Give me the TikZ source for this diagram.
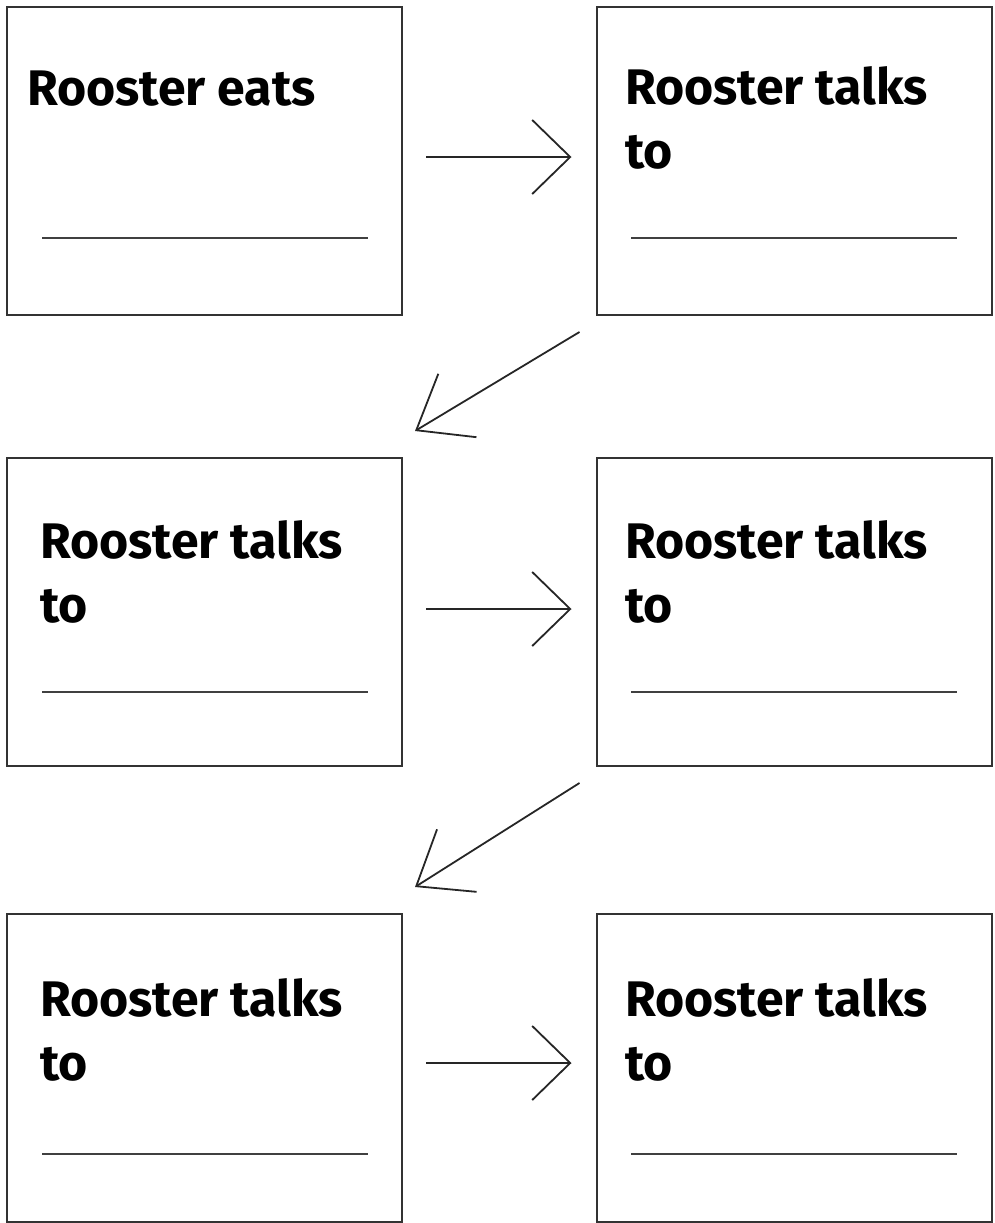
\documentclass[tikz,border=0pt]{standalone}
\usepackage{fontspec}
\setmainfont{Fira Sans}
\usetikzlibrary{arrows.meta}

\begin{document}
\begin{tikzpicture}[x=1pt, y=-1pt,
  card/.style={draw=black!80, line width=2pt, minimum width=395pt, minimum height=308pt, inner sep=0pt},
  words/.style={anchor=base west, align=left, inner sep=0pt, font=\bfseries\fontsize{50}{64}\selectfont},
  blank/.style={draw=black!75, line width=2pt},
  goes/.style={draw=black!85, line width=1.8pt, -{Straight Barb[length=38pt, width=74pt]}},
  goesback/.style={draw=black!85, line width=1.8pt, -{Straight Barb[length=48pt, width=74pt]}}]
\useasboundingbox (0,0) rectangle (995,1223);

%boxes
  \node[card] (A) at (204.5,161) {};
  \node[card] (B) at (794,161) {};
  \node[card] (C) at (204.5,612) {};
  \node[card] (D) at (794,612) {};
  \node[card] (E) at (204.5,1068) {};
  \node[card] (F) at (794,1068) {};

%texts (base = last line)
  \node[words] (tA) at (27,105) {Rooster eats};
  \node[words] (tB) at (625,168) {Rooster talks\\to};
  \node[words] (tC) at (40,622) {Rooster talks\\to};
  \node[words] (tD) at (625,622) {Rooster talks\\to};
  \node[words] (tE) at (40,1080) {Rooster talks\\to};
  \node[words] (tF) at (625,1080) {Rooster talks\\to};

%lines to fill in
  \draw[blank] (42,238) -- (368,238);
  \draw[blank] (631,238) -- (957,238);
  \draw[blank] (42,692) -- (368,692);
  \draw[blank] (631,692) -- (957,692);
  \draw[blank] (42,1154) -- (368,1154);
  \draw[blank] (631,1154) -- (957,1154);

%arrows
  \coordinate (s1) at ([shift={(-16,16)}]B.south west);
  \coordinate (e1) at ([shift={(12,-26)}]C.north east);
  \coordinate (s2) at ([shift={(-16,16)}]D.south west);
  \coordinate (e2) at ([shift={(12,-26)}]E.north east);

  \draw[goes, shorten <=23pt, shorten >=24pt] ([yshift=4pt]A.east) -- ([yshift=4pt]B.west);
  \draw[goes, shorten <=23pt, shorten >=24pt] ([yshift=3pt]C.east) -- ([yshift=3pt]D.west);
  \draw[goes, shorten <=23pt, shorten >=24pt] ([yshift=5pt]E.east) -- ([yshift=5pt]F.west);
  \draw[goesback] (s1) -- (e1);
  \draw[goesback] (s2) -- (e2);
\end{tikzpicture}
\end{document}
